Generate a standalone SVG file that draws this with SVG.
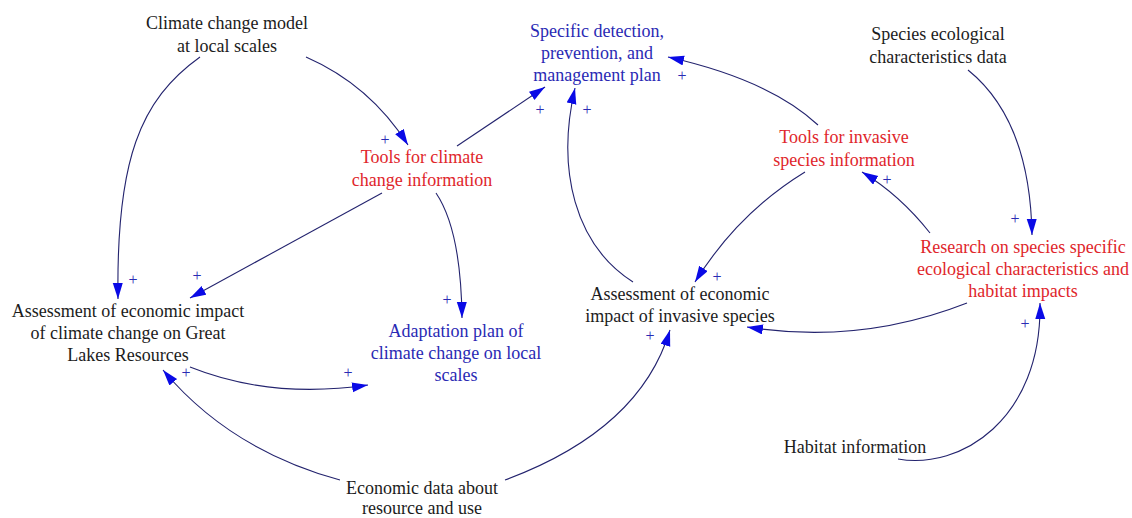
<svg xmlns="http://www.w3.org/2000/svg" width="1132" height="518" viewBox="0 0 1132 518">
<style>
.t{font-family:"Liberation Serif","Times New Roman",serif;font-size:18px;text-anchor:middle}
.k{fill:#1c1c1c}
.r{fill:#e0262b}
.b{fill:#2a2ab4}
.p{font-family:"Liberation Serif","Times New Roman",serif;font-size:16px;text-anchor:middle;fill:#2a2ab4}
.c{fill:none;stroke:#23236e;stroke-width:1.1}
</style>
<defs>
<marker id="ah" markerUnits="userSpaceOnUse" markerWidth="18" markerHeight="12" refX="16" refY="5" orient="auto">
<path d="M0,0 L16,5 L0,10 z" fill="#0a0ae6"/>
</marker>
</defs>
<rect width="1132" height="518" fill="#ffffff"/>
<g id="connectors">
<path class="c" marker-end="url(#ah)" d="M200,57 C140,100 116,160 118,299"/>
<path class="c" marker-end="url(#ah)" d="M306,57 Q370,85 408,145"/>
<path class="c" marker-end="url(#ah)" d="M457,146 L545,87"/>
<path class="c" marker-end="url(#ah)" d="M382,193 L190,298"/>
<path class="c" marker-end="url(#ah)" d="M436,193 Q461,230 462,318"/>
<path class="c" marker-end="url(#ah)" d="M190,367 C240,387 300,395 368,385"/>
<path class="c" marker-end="url(#ah)" d="M340,480 Q230,450 163,370"/>
<path class="c" marker-end="url(#ah)" d="M505,480 Q640,430 670,330"/>
<path class="c" marker-end="url(#ah)" d="M818,125 Q770,80 668,57"/>
<path class="c" marker-end="url(#ah)" d="M633,282 C575,245 556,170 575,88"/>
<path class="c" marker-end="url(#ah)" d="M805,172 Q738,213 695,282"/>
<path class="c" marker-end="url(#ah)" d="M968,70 Q1030,120 1032,235"/>
<path class="c" marker-end="url(#ah)" d="M930,233 Q900,195 862,172"/>
<path class="c" marker-end="url(#ah)" d="M967,303 Q860,345 747,327"/>
<path class="c" marker-end="url(#ah)" d="M898,459 C960,470 1042,420 1040,303"/>
</g>
<g id="polarity">
<text class="p" x="385" y="145">+</text>
<text class="p" x="540" y="115">+</text>
<text class="p" x="587" y="115">+</text>
<text class="p" x="682" y="81">+</text>
<text class="p" x="887" y="185">+</text>
<text class="p" x="1015" y="224">+</text>
<text class="p" x="1025" y="329">+</text>
<text class="p" x="717" y="282">+</text>
<text class="p" x="650" y="341">+</text>
<text class="p" x="133" y="285">+</text>
<text class="p" x="197" y="281">+</text>
<text class="p" x="186" y="378">+</text>
<text class="p" x="447" y="305">+</text>
<text class="p" x="348" y="378">+</text>
</g>
<g id="climate-model"><text class="t k" x="227" y="29">Climate change model</text><text class="t k" x="227" y="52">at local scales</text></g>
<g id="specific-plan"><text class="t b" x="597" y="37">Specific detection,</text><text class="t b" x="597" y="59">prevention, and</text><text class="t b" x="597" y="81">management plan</text></g>
<g id="species-data"><text class="t k" x="938" y="40">Species ecological</text><text class="t k" x="938" y="63">characteristics data</text></g>
<g id="tools-climate"><text class="t r" x="422" y="163">Tools for climate</text><text class="t r" x="422" y="186">change information</text></g>
<g id="tools-invasive"><text class="t r" x="844" y="143">Tools for invasive</text><text class="t r" x="844" y="166">species information</text></g>
<g id="assess-climate"><text class="t k" x="128" y="317">Assessment of economic impact</text><text class="t k" x="128" y="339">of climate change on Great</text><text class="t k" x="128" y="361">Lakes Resources</text></g>
<g id="adaptation"><text class="t b" x="456" y="337">Adaptation plan of</text><text class="t b" x="456" y="359">climate change on local</text><text class="t b" x="456" y="381">scales</text></g>
<g id="assess-invasive"><text class="t k" x="680" y="300">Assessment of economic</text><text class="t k" x="680" y="322">impact of invasive species</text></g>
<g id="research"><text class="t r" x="1023" y="253">Research on species specific</text><text class="t r" x="1023" y="275">ecological characteristics and</text><text class="t r" x="1023" y="297">habitat impacts</text></g>
<g id="habitat"><text class="t k" x="855" y="453">Habitat information</text></g>
<g id="economic-data"><text class="t k" x="422" y="494">Economic data about</text><text class="t k" x="422" y="514">resource and use</text></g>
</svg>
